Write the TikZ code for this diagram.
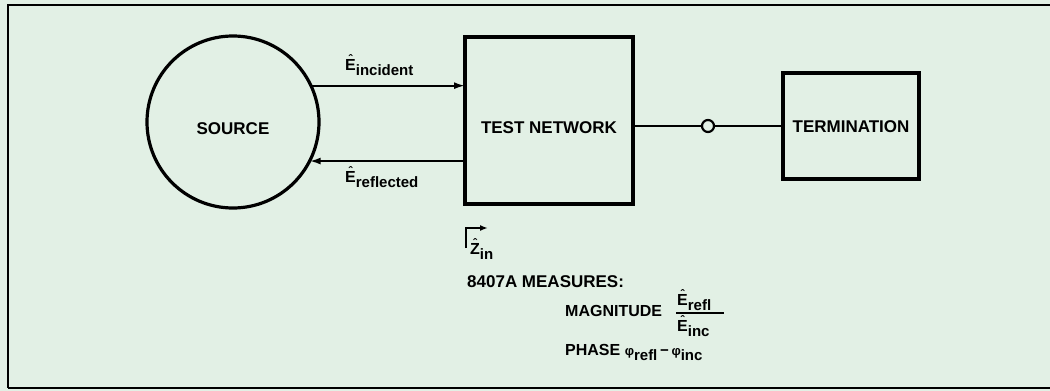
\documentclass[tikz,border=0pt]{standalone}
\usepackage{fontspec}
\setmainfont{Liberation Sans}
\usetikzlibrary{arrows.meta,calc}
\definecolor{paper}{RGB}{226,240,229}
\newcommand{\fsz}[1]{\fontsize{#1}{#1}\selectfont}
\newcommand{\lsub}[1]{\raisebox{-5pt}{\fsz{15}\bfseries #1}}
\newcommand{\hatl}[1]{\ooalign{#1\cr\hidewidth\raisebox{7pt}{\fsz{12}\char"02C6}\hidewidth\cr}}
\begin{document}
\begin{tikzpicture}[x=1pt,y=-1pt,
  frame/.style={line width=2.6pt},
  blk/.style={draw, line width=3.2pt, inner sep=0pt, outer sep=0pt},
  arr/.style={line width=2pt, -{Latex[length=11pt,width=7pt]}},
  wire/.style={line width=2.2pt},
  txt/.style={inner sep=0pt, font=\fsz{17}\bfseries},
  lbl/.style={inner sep=0pt, anchor=base west, font=\fsz{16}\bfseries}]
\fill[paper] (0,0) rectangle (1050,391);
\useasboundingbox (0,0) rectangle (1050,391);
\draw[frame] (8,388) -- (8,5) -- (1050,5);
\draw[frame] (8,388) -- (1050,388);
% blocks
\node[blk, circle, minimum size=172pt] (src) at (233,122) {};
\node[txt] (srct) at (233,129) {SOURCE};
\node[blk, minimum width=168pt, minimum height=167pt] (tn) at (549,120.5) {};
\node[txt] (tnt) at (549,128) {TEST NETWORK};
\node[blk, minimum width=136pt, minimum height=106pt] (term) at (851,126) {};
\node[txt] (termt) at (851,127) {TERMINATION};
% junction
\node[draw, circle, wire, fill=paper, minimum size=12pt, inner sep=0pt] (jn) at (708,126) {};
\draw[wire] (term.west -| tn.east) -- (jn) -- (term.west);
% incident / reflected
\draw[arr] (src.25.5) -- (src.25.5 -| tn.west);
\draw[arr] (src.-27.7 -| tn.west) -- (src.-27.7);
\node[lbl] (linc) at (345,70) {\hatl{E}\lsub{incident}};
\node[lbl] (lref) at (345,182) {\hatl{E}\lsub{reflected}};
% Z_in
\coordinate (zb) at (466,248);
\coordinate (zt) at (488,228);
\draw[line width=1.8pt, -{Latex[length=8pt,width=6pt]}] (zb) |- (zt);
\node[lbl] (zin) at (470,254) {\hatl{Z}\lsub{in}};
% measures
\node[lbl, font=\fsz{17}\bfseries] (meas) at (467,287) {8407A MEASURES:};
\node[lbl] (mag) at (565,316) {MAGNITUDE};
\node[lbl] (num) at (677,305) {\hatl{E}\lsub{refl}};
\draw[line width=1.4pt] (676,313) -- (724,313);
\node[lbl] (den) at (677,331) {\hatl{E}\lsub{inc}};
\node[lbl] (ph) at (565,355) {PHASE {\fsz{13}φ}\lsub{refl}\,{\fsz{15}−}\,{\fsz{13}φ}\lsub{inc}};
\end{tikzpicture}
\end{document}
